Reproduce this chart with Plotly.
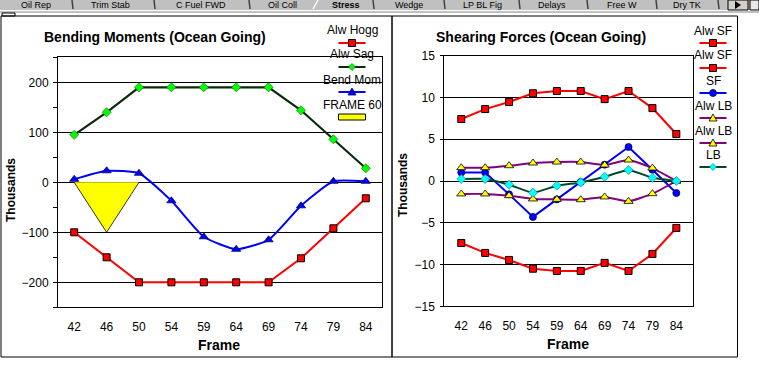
import plotly.graph_objects as go

# ---------------- data ----------------
frames = ["42", "46", "50", "54", "59", "64", "69", "74", "79", "84"]

# Bending moments (thousands)
alw_hogg = [-100, -150, -200, -200, -200, -200, -200, -152, -92, -32]
alw_sag = [95, 140, 190, 190, 190, 190, 190, 144, 86, 28]
bend_mom = [6, 23, 18, -37, -109, -134, -115, -47, 2, 2]
frame60_x = ["42", "46", "50"]
frame60 = [0, -100, 0]

# Shearing forces (thousands)
alw_sf_pos = [7.42, 8.61, 9.45, 10.5, 10.77, 10.77, 9.8, 10.77, 8.73, 5.62]
alw_sf_neg = [-7.42, -8.61, -9.45, -10.5, -10.77, -10.77, -9.8, -10.77, -8.73, -5.62]
sf = [1.03, 1.03, -1.6, -4.3, -2.2, -0.12, 1.95, 4.07, 1.35, -1.44]
alw_lb_pos = [1.59, 1.59, 1.83, 2.15, 2.27, 2.27, 1.91, 2.51, 1.55, 0]
alw_lb_neg = [-1.55, -1.55, -1.76, -2.15, -2.2, -2.24, -1.91, -2.44, -1.52, 0]
lb = [0.24, 0.24, -0.44, -1.4, -0.56, -0.17, 0.51, 1.32, 0.39, 0]

tabs = ["Oil Rep", "Trim Stab", "C Fuel FWD", "Oil Coll", "Stress", "Wedge",
        "LP BL Fig", "Delays", "Free W", "Dry TK"]

# ---------------- styling ----------------
W, H = 759, 380
FONT = "Liberation Sans, Arial, sans-serif"
RED, DKGREEN, GREEN, BLUE = "#ff0000", "#0a2a0a", "#00ff00", "#0000ff"
PURPLE, YELLOW, CYAN, TEAL = "#800080", "#ffff00", "#00ffff", "#004828"


def px(x):
    return x / W


def py(y):
    return 1 - y / H


fig = go.Figure()

# ---- left chart ----
fig.add_trace(go.Scatter(x=frame60_x, y=frame60, mode="lines", fill="toself",
                         fillcolor=YELLOW, line=dict(color="black", width=0.8),
                         xaxis="x", yaxis="y", name="FRAME 60"))
fig.add_trace(go.Scatter(x=frames, y=alw_hogg, mode="lines+markers", name="Alw Hogg",
                         line=dict(color=RED, width=2),
                         marker=dict(symbol="square", size=7, color=RED,
                                     line=dict(color="black", width=1)),
                         xaxis="x", yaxis="y"))
fig.add_trace(go.Scatter(x=frames, y=alw_sag, mode="lines+markers", name="Alw Sag",
                         line=dict(color=DKGREEN, width=2.2),
                         marker=dict(symbol="diamond", size=7, color=GREEN,
                                     line=dict(color="#006000", width=0.6)),
                         xaxis="x", yaxis="y"))
fig.add_trace(go.Scatter(x=frames, y=bend_mom, mode="lines+markers", name="Bend Mom",
                         line=dict(color=BLUE, width=2, shape="spline", smoothing=0.5),
                         marker=dict(symbol="triangle-up", size=8, color=BLUE,
                                     line=dict(color="#000060", width=0.8)),
                         xaxis="x", yaxis="y"))

# ---- right chart ----
fig.add_trace(go.Scatter(x=frames, y=alw_sf_pos, mode="lines+markers", name="Alw SF",
                         line=dict(color=RED, width=2),
                         marker=dict(symbol="square", size=7, color=RED,
                                     line=dict(color="black", width=1)),
                         xaxis="x2", yaxis="y2"))
fig.add_trace(go.Scatter(x=frames, y=alw_sf_neg, mode="lines+markers", name="Alw SF",
                         line=dict(color=RED, width=2),
                         marker=dict(symbol="square", size=7, color=RED,
                                     line=dict(color="black", width=1)),
                         xaxis="x2", yaxis="y2"))
fig.add_trace(go.Scatter(x=frames, y=sf, mode="lines+markers", name="SF",
                         line=dict(color=BLUE, width=2),
                         marker=dict(symbol="circle", size=7, color=BLUE,
                                     line=dict(color="#000060", width=0.8)),
                         xaxis="x2", yaxis="y2"))
for vals in (alw_lb_pos, alw_lb_neg):
    fig.add_trace(go.Scatter(x=frames, y=vals, mode="lines+markers", name="Alw LB",
                             line=dict(color=PURPLE, width=2, shape="spline", smoothing=0.5),
                             marker=dict(symbol="triangle-up", size=8, color=YELLOW,
                                         line=dict(color="black", width=0.8)),
                             xaxis="x2", yaxis="y2"))
fig.add_trace(go.Scatter(x=frames, y=lb, mode="lines+markers", name="LB",
                         line=dict(color=TEAL, width=2, shape="spline", smoothing=0.4),
                         marker=dict(symbol="diamond", size=7, color=CYAN,
                                     line=dict(color="#008080", width=0.6)),
                         xaxis="x2", yaxis="y2"))

axis_common = dict(showline=True, linecolor="black", linewidth=1, mirror=True,
                   automargin=False,
                   tickfont=dict(family=FONT, size=12, color="black"))

fig.update_layout(
    width=W, height=H, margin=dict(l=0, r=0, t=0, b=0, pad=0, autoexpand=False),
    paper_bgcolor="white", plot_bgcolor="white", showlegend=False,
    font=dict(family=FONT, color="black"),
    xaxis=dict(domain=[px(58), px(382)], type="category", categoryorder="array",
               categoryarray=frames, range=[-0.5, 9.5], showgrid=False, ticks="",
               ticklabelstandoff=8, anchor="y", **axis_common),
    yaxis=dict(domain=[py(307.3), py(57.3)], range=[-250, 250], dtick=100, tick0=0,
               showgrid=True, gridcolor="black", gridwidth=1, zeroline=False,
               ticks="outside", ticklen=4, tickcolor="black", ticklabelstandoff=2,
               minor=dict(dtick=50, ticks="outside", ticklen=4, tickcolor="black",
                          showgrid=False),
               anchor="x", **axis_common),
    xaxis2=dict(domain=[px(444.3), px(693.3)], type="category", categoryorder="array",
                categoryarray=frames, range=[-0.71, 9.71], showgrid=False, ticks="",
                ticklabelstandoff=8, anchor="y2", **axis_common),
    yaxis2=dict(domain=[py(306.3), py(55.7)], range=[-15, 15], dtick=5, tick0=0,
                showgrid=True, gridcolor="black", gridwidth=1, zeroline=False,
                ticks="outside", ticklen=3, tickcolor="black", ticklabelstandoff=3,
                anchor="x2", **axis_common),
)

shapes = []
ann = []

# ---- tab strip ----
shapes.append(dict(type="rect", xref="paper", yref="paper", x0=0, x1=1, y0=py(10),
                   y1=py(0), fillcolor="#c0c0c0", line=dict(width=0), layer="below"))
shapes.append(dict(type="line", xref="paper", yref="paper", x0=0, x1=1, y0=py(10.5),
                   y1=py(10.5), line=dict(color="white", width=1)))
shapes.append(dict(type="rect", xref="paper", yref="paper", x0=0, x1=1, y0=py(13),
                   y1=py(11), fillcolor="#c0c0c0", line=dict(width=0), layer="below"))
tab_centers = [36, 111, 201, 282, 346, 409, 482, 552, 622, 687]
seps = [72, 154, 249, 373, 444, 519, 587, 656, 718]
for t, cx in zip(tabs, tab_centers):
    ann.append(dict(text=("<b>%s</b>" % t) if t == "Stress" else t, x=px(cx), y=py(5.5),
                    xref="paper", yref="paper", showarrow=False, xanchor="center",
                    yanchor="middle", font=dict(family=FONT, size=9, color="black")))
for s in seps:
    shapes.append(dict(type="line", xref="paper", yref="paper", x0=px(s), x1=px(s + 1),
                       y0=py(0), y1=py(9), line=dict(color="#404040", width=1.5)))
shapes.append(dict(type="line", xref="paper", yref="paper", x0=px(318), x1=px(313),
                   y0=py(0), y1=py(9), line=dict(color="white", width=1.5)))
# scroll buttons
shapes.append(dict(type="rect", xref="paper", yref="paper", x0=px(728), x1=px(748),
                   y0=py(10), y1=py(0), fillcolor="#d4d0c8", line=dict(color="black", width=1)))
shapes.append(dict(type="path", xref="paper", yref="paper",
                   path="M %f,%f L %f,%f L %f,%f Z" % (px(735), py(1), px(741), py(5),
                                                       px(735), py(9)),
                   fillcolor="black", line=dict(width=0)))
shapes.append(dict(type="rect", xref="paper", yref="paper", x0=px(750), x1=px(759),
                   y0=py(10), y1=py(0), fillcolor="#e8e8e8", line=dict(color="black", width=1)))

# small box top-left
shapes.append(dict(type="rect", xref="paper", yref="paper", x0=px(2), x1=px(15),
                   y0=py(16), y1=py(13), line=dict(color="black", width=1)))
# panel borders
shapes.append(dict(type="rect", xref="paper", yref="paper", x0=px(1), x1=px(392),
                   y0=py(357), y1=py(16), line=dict(color="black", width=1)))
shapes.append(dict(type="rect", xref="paper", yref="paper", x0=px(392), x1=px(737.5),
                   y0=py(357), y1=py(16), line=dict(color="black", width=1)))

# ---- titles ----
for text, x, y, size, angle in [
    ("Bending Moments (Ocean Going)", 155, 37, 14, 0),
    ("Shearing Forces (Ocean Going)", 541, 37, 14, 0),
    ("Frame", 219, 345, 14, 0),
    ("Frame", 568, 344, 14, 0),
    ("Thousands", 11, 190, 12, -90),
    ("Thousands", 403, 185, 12, -90),
]:
    ann.append(dict(text="<b>%s</b>" % text, x=px(x), y=py(y), xref="paper", yref="paper",
                    showarrow=False, xanchor="center", yanchor="middle", textangle=angle,
                    font=dict(family=FONT, size=size, color="black")))


# ---- custom legends (text above sample) ----
def legend_item(cx, ty, ly, label, color, marker, mfill, mline, half=13.5):
    ann.append(dict(text=label, x=px(cx), y=py(ty), xref="paper", yref="paper",
                    showarrow=False, xanchor="center", yanchor="middle",
                    font=dict(family=FONT, size=12, color="black")))
    if marker == "rectfill":
        shapes.append(dict(type="rect", xref="paper", yref="paper", x0=px(cx - half),
                           x1=px(cx + half), y0=py(ly + 3), y1=py(ly - 3),
                           fillcolor=mfill, line=dict(color="black", width=1)))
        return
    shapes.append(dict(type="line", xref="paper", yref="paper", x0=px(cx - half),
                       x1=px(cx + half), y0=py(ly), y1=py(ly),
                       line=dict(color=color, width=2)))
    s = 3.5
    if marker == "square":
        shapes.append(dict(type="rect", xref="paper", yref="paper", x0=px(cx - s),
                           x1=px(cx + s), y0=py(ly + s), y1=py(ly - s),
                           fillcolor=mfill, line=dict(color=mline, width=1)))
    elif marker == "circle":
        shapes.append(dict(type="circle", xref="paper", yref="paper", x0=px(cx - s),
                           x1=px(cx + s), y0=py(ly + s), y1=py(ly - s),
                           fillcolor=mfill, line=dict(color=mline, width=0.8)))
    elif marker == "diamond":
        d = 3.5
        shapes.append(dict(type="path", xref="paper", yref="paper",
                           path="M %f,%f L %f,%f L %f,%f L %f,%f Z" % (
                               px(cx), py(ly - d), px(cx + d), py(ly), px(cx), py(ly + d),
                               px(cx - d), py(ly)),
                           fillcolor=mfill, line=dict(color=mline, width=0.6)))
    elif marker == "triangle":
        shapes.append(dict(type="path", xref="paper", yref="paper",
                           path="M %f,%f L %f,%f L %f,%f Z" % (
                               px(cx), py(ly - 4), px(cx + 4), py(ly + 3), px(cx - 4),
                               py(ly + 3)),
                           fillcolor=mfill, line=dict(color=mline, width=0.8)))


legend_item(352, 30, 43, "Alw Hogg", RED, "square", RED, "black")
legend_item(352, 54, 67, "Alw Sag", DKGREEN, "diamond", GREEN, "#006000")
legend_item(352, 80, 92, "Bend Mom", BLUE, "triangle", BLUE, "#000060")
legend_item(352, 105, 117, "FRAME 60", None, "rectfill", YELLOW, "black")

legend_item(713, 31, 43, "Alw SF", RED, "square", RED, "black")
legend_item(713, 55, 68, "Alw SF", RED, "square", RED, "black")
legend_item(713, 81, 93, "SF", BLUE, "circle", BLUE, "#000060")
legend_item(713, 106, 118, "Alw LB", PURPLE, "triangle", YELLOW, "black")
legend_item(713, 131, 143, "Alw LB", PURPLE, "triangle", YELLOW, "black")
legend_item(713, 155, 167, "LB", TEAL, "diamond", CYAN, "#008080")

fig.update_layout(shapes=shapes, annotations=ann)
fig.write_html("out.html", config={"displayModeBar": False},
               post_script="document.body.style.margin='0';document.body.style.padding='0';")
